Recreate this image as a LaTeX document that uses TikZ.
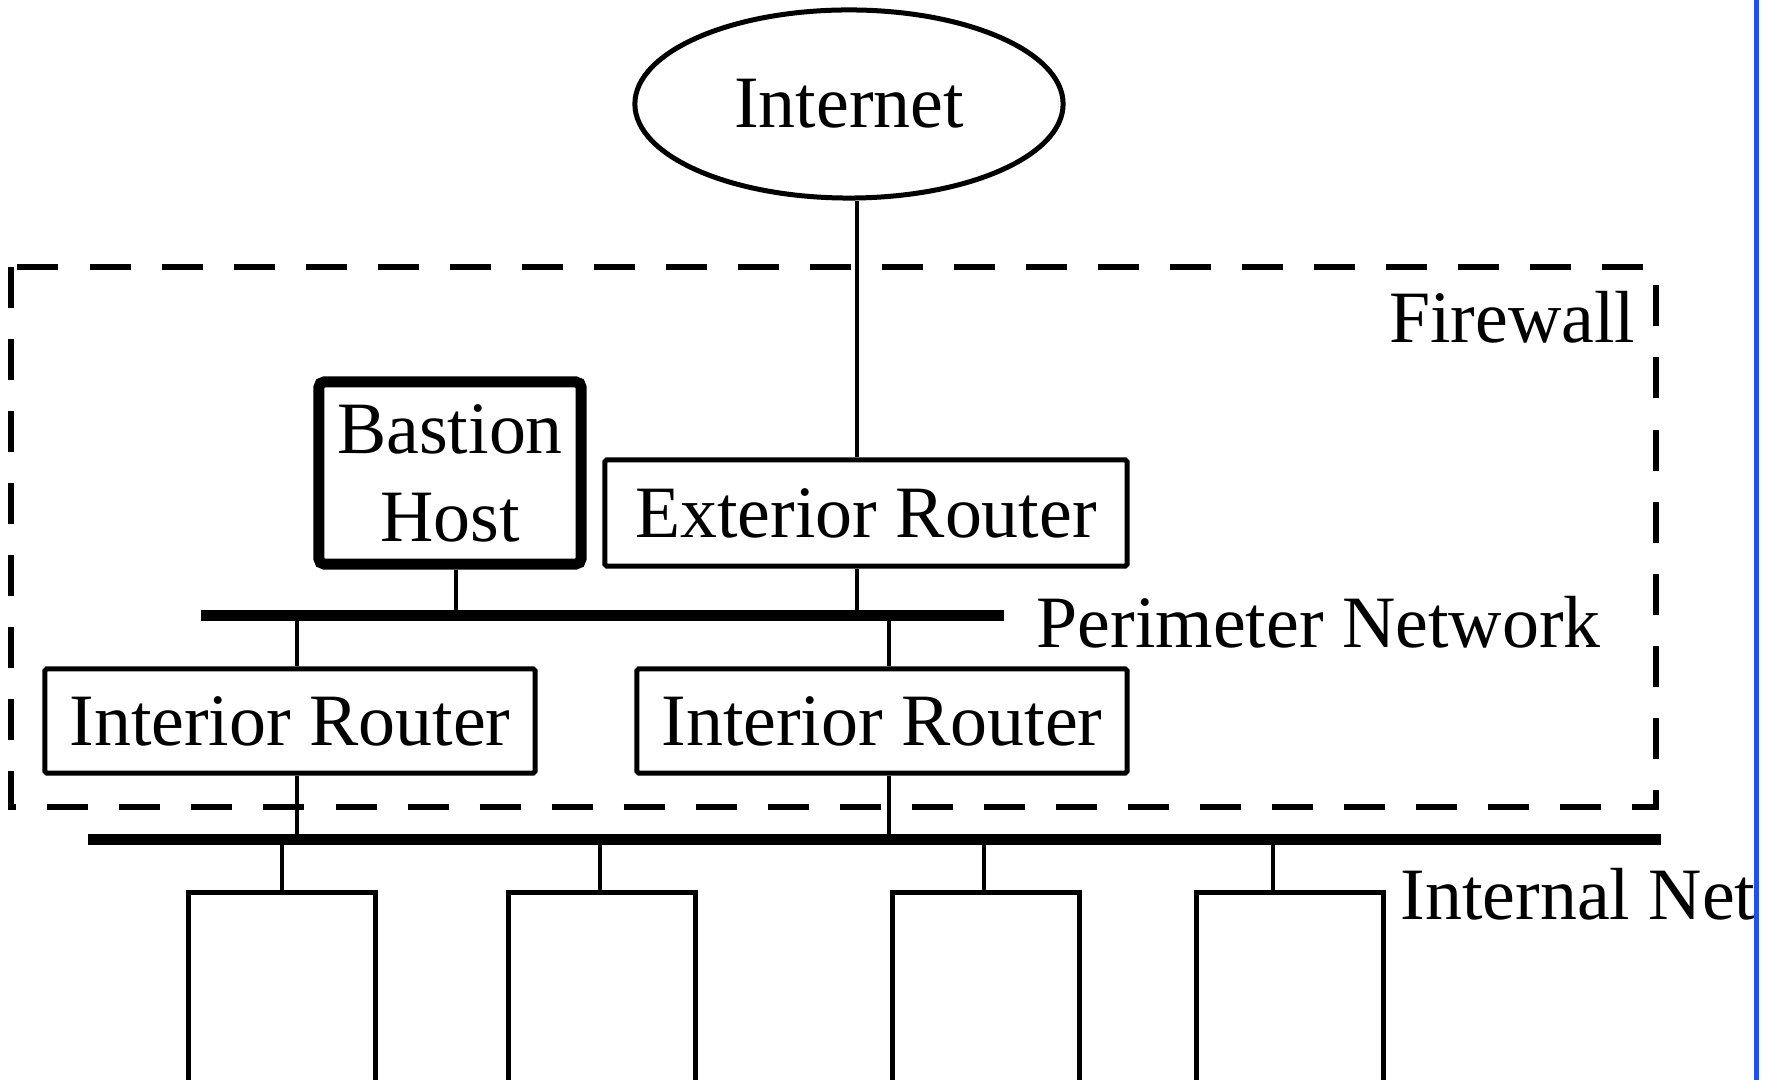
\documentclass[tikz,border=0pt]{standalone}
\usepackage{fontspec}
\setmainfont{Liberation Serif}
\usetikzlibrary{shapes.geometric}
\definecolor{edgeblue}{RGB}{30,80,250}
\tikzset{
  netlabel/.style={font=\fontsize{21}{25}\selectfont, inner sep=0pt},
  routerbox/.style={draw, line width=0.05cm, rounded corners=0.5pt, inner sep=0pt,
    minimum width=4.90cm, minimum height=1.04cm, netlabel},
  bastionbox/.style={draw, line width=0.11cm, rounded corners=1.5pt, inner sep=0pt,
    minimum width=2.62cm, minimum height=1.82cm, align=center, netlabel},
  hostbox/.style={draw, line width=0.05cm, inner sep=0pt, anchor=north,
    minimum width=1.86cm, minimum height=2.10cm},
  cloud/.style={draw, ellipse, line width=0.05cm, inner sep=0pt,
    minimum width=4.28cm, minimum height=1.88cm, netlabel},
  link/.style={line width=0.045cm},
  bus/.style={line width=0.11cm},
  firewall/.style={line width=0.055cm, dash pattern=on 0.41cm off 0.31cm}
}
\begin{document}
\begin{tikzpicture}[x=0.01cm, y=-0.01cm]
        \path[use as bounding box, clip] (0,0) rectangle (1775,1080);
        {
        % Drawing firewall boundary
        \draw [firewall] (11,267) rectangle (1656,807);%
        \node [netlabel, anchor=base east] (fwlabel) at (1636,343) {Firewall};%

        % Marking Internet
        \node [cloud] (inet) at (849,104) {Internet};%

        % Marking routers and bastion host
        \node [routerbox, minimum width=5.22cm, minimum height=1.06cm] (ext) at (866,513) {Exterior Router};%
        \node [bastionbox] (bastion) at (450,473) {Bastion\\Host};%
        \node [routerbox] (ir1) at (290,721) {Interior Router};%
        \node [routerbox] (ir2) at (882,721) {Interior Router};%

        % Drawing perimeter network
        \coordinate (pbW) at (201,616);%
        \coordinate (pbE) at (1004,616);%
        \draw [bus] (pbW) -- (pbE);%
        \node [netlabel, anchor=base west] (pblabel) at (1036,648) {Perimeter Network};%

        % Drawing internal network
        \coordinate (ibW) at (88,840);%
        \coordinate (ibE) at (1661,840);%
        \draw [bus] (ibW) -- (ibE);%
        \node [netlabel, anchor=base west] (iblabel) at (1400,920) {Internal Net};%

        % Drawing links
        \draw [link] ([xshift=0.08cm]inet.south) -- ([xshift=0.08cm]inet.south |- ext.north);%
        \draw [link] ([xshift=0.08cm]inet.south |- ext.south) -- ([xshift=0.08cm]inet.south |- pbW);%
        \draw [link] ([xshift=0.06cm]bastion.south) -- ([xshift=0.06cm]bastion.south |- pbW);%
        \draw [link] ([xshift=0.07cm]ir1.north) -- ([xshift=0.07cm]ir1.north |- pbW);%
        \draw [link] ([xshift=0.07cm]ir2.north) -- ([xshift=0.07cm]ir2.north |- pbW);%
        \draw [link] ([xshift=0.07cm]ir1.south) -- ([xshift=0.07cm]ir1.south |- ibW);%
        \draw [link] ([xshift=0.07cm]ir2.south) -- ([xshift=0.07cm]ir2.south |- ibW);%

        % Marking hosts on internal network
        \foreach \x/\dx [count=\i] in {282/0, 602/-0.02, 986/-0.02, 1290/-0.17} {
          \node [hostbox] (host\i) at (\x,890) {};%
          \draw [link] ([xshift=\dx cm]host\i.north) -- ([xshift=\dx cm]host\i.north |- ibW);%
        }

        % Drawing page edge
        \draw [line width=0.05cm, edgeblue] (1756,0) -- (1756,1080);%
        }
\end{tikzpicture}
\end{document}
